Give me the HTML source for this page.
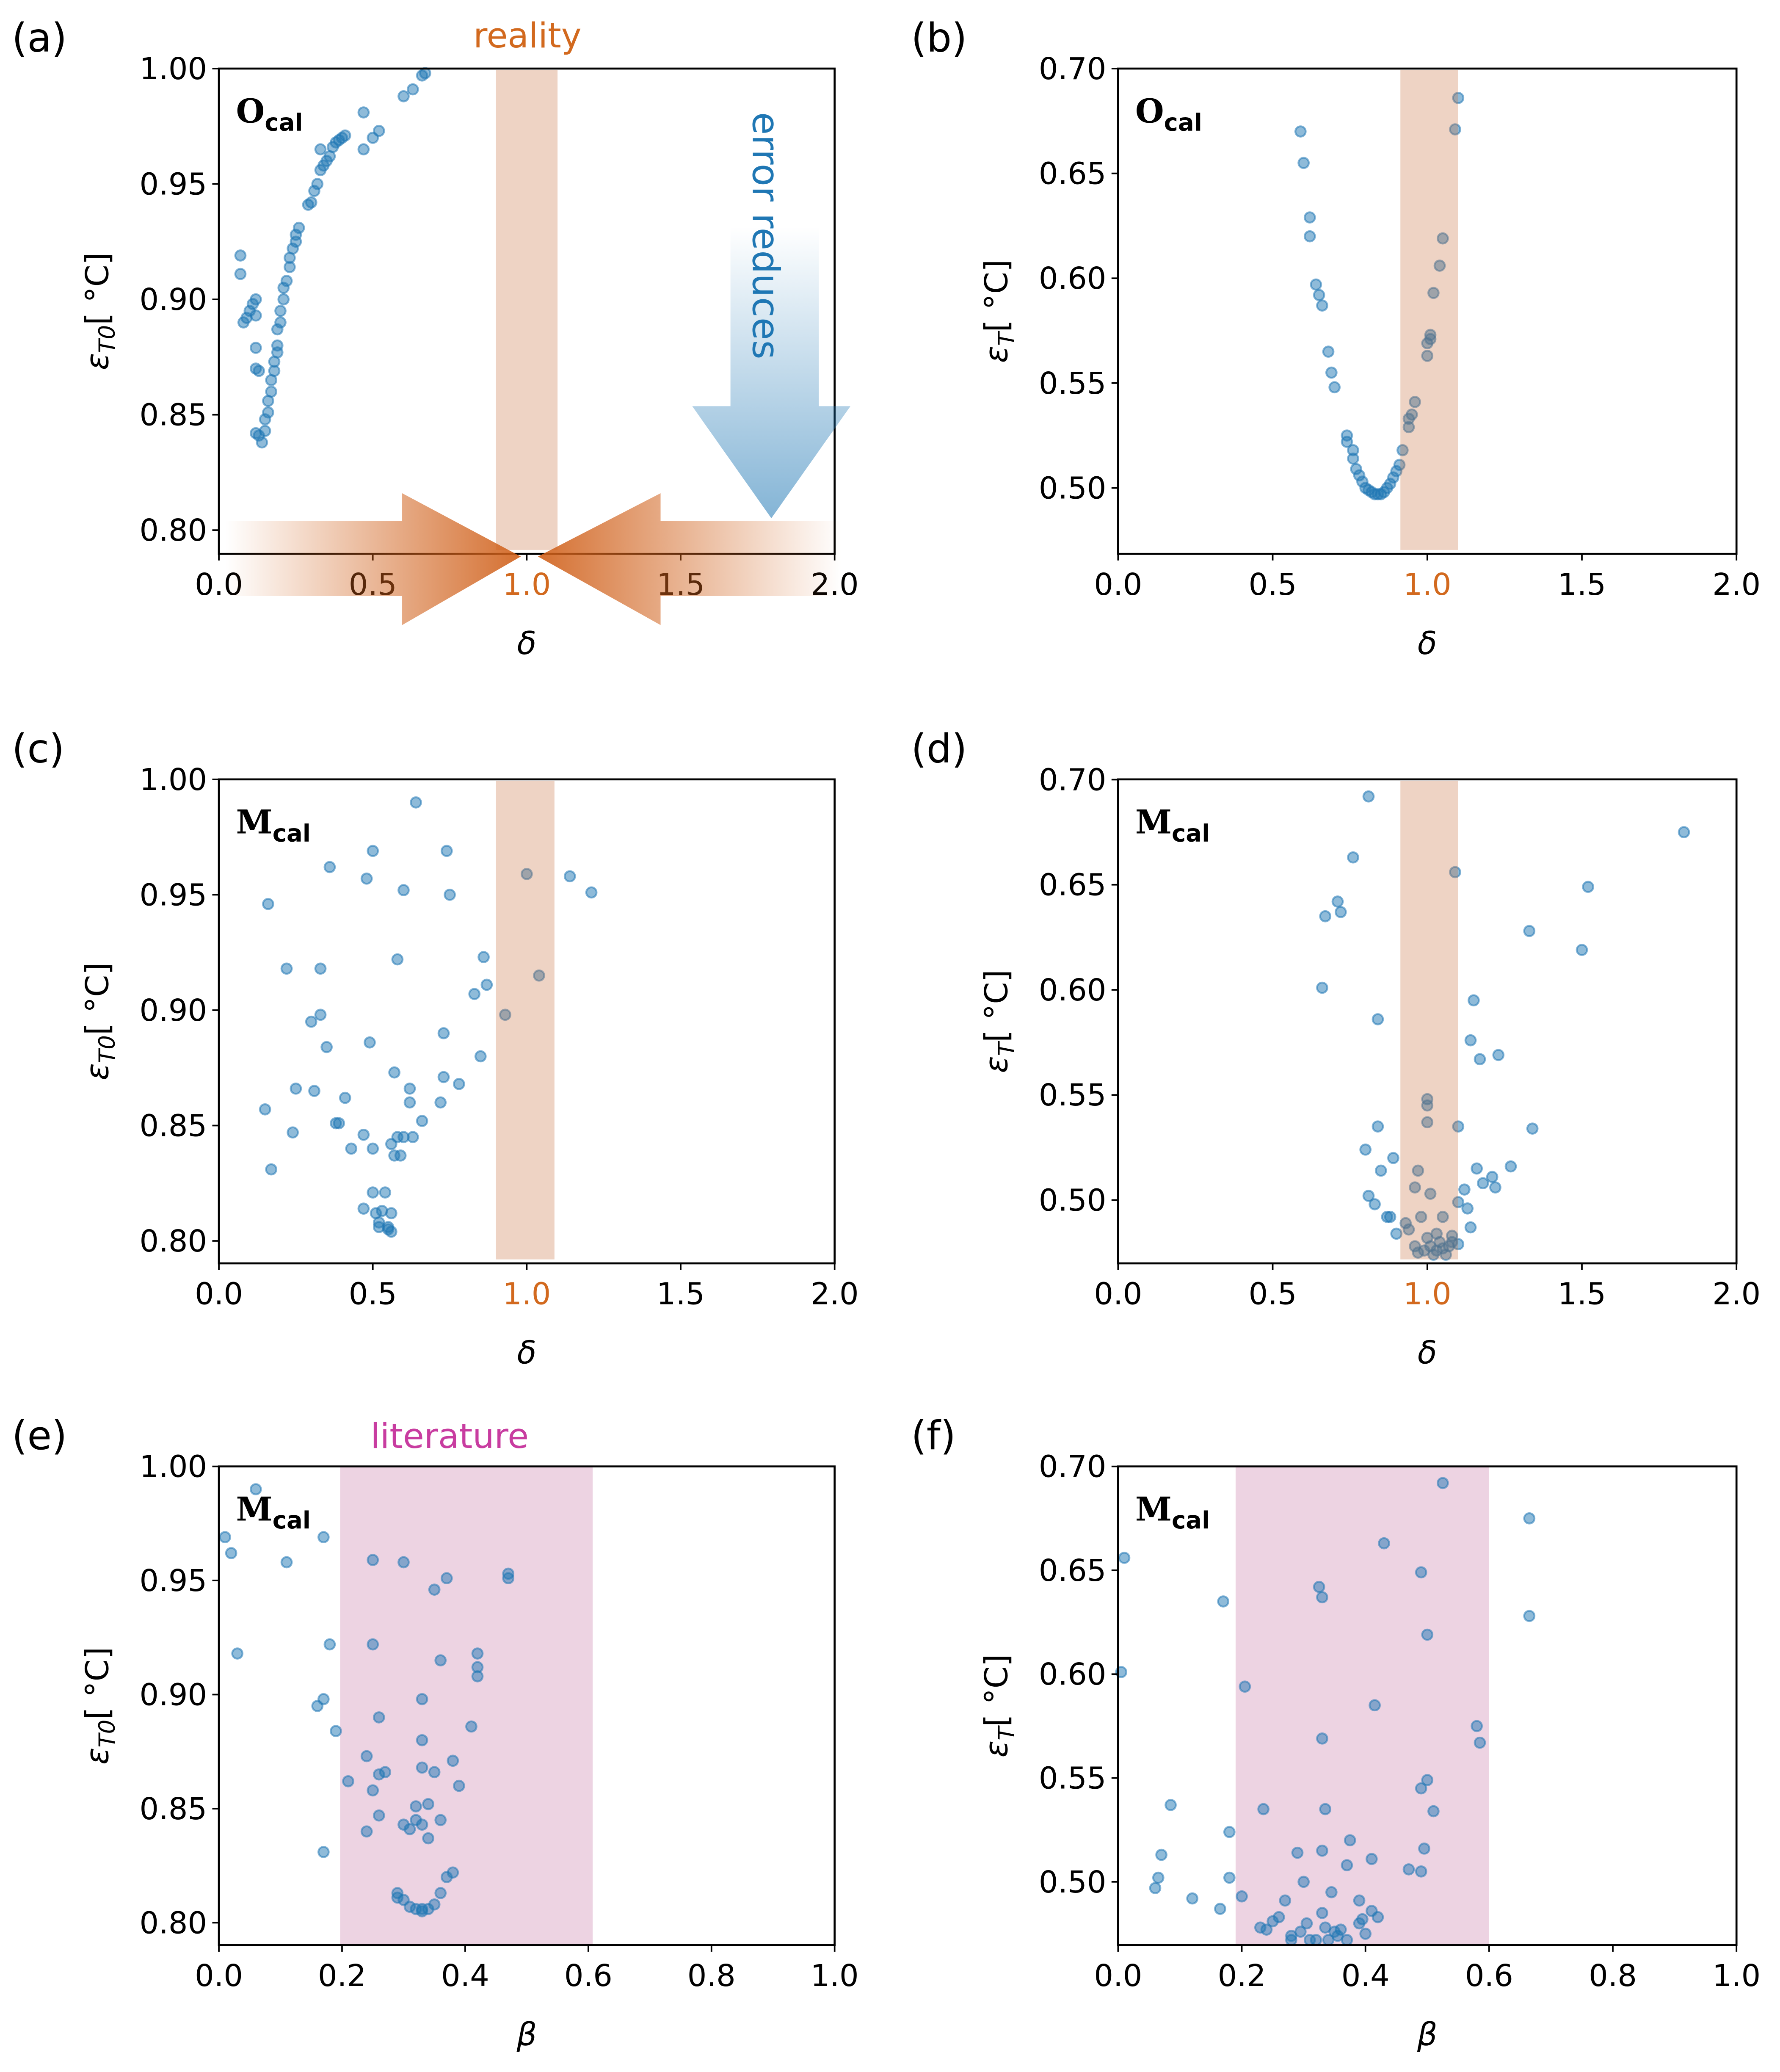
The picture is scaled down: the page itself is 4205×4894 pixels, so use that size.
<!DOCTYPE html>
<html><head><meta charset="utf-8"><style>
html,body{margin:0;padding:0;background:#fff;}
svg{display:block;}
</style></head><body>
<svg id="fig" xmlns="http://www.w3.org/2000/svg" width="4205" height="4894" viewBox="0 0 1350 1571.2" font-family="DejaVu Sans, Liberation Sans, sans-serif">
<defs>
<linearGradient id="gL" x1="171" y1="0" x2="395" y2="0" gradientUnits="userSpaceOnUse"><stop offset="0" stop-color="#d0601a" stop-opacity="0"/><stop offset="1" stop-color="#d0601a" stop-opacity="1"/></linearGradient>
<linearGradient id="gR" x1="638" y1="0" x2="408" y2="0" gradientUnits="userSpaceOnUse"><stop offset="0" stop-color="#d0601a" stop-opacity="0"/><stop offset="1" stop-color="#d0601a" stop-opacity="1"/></linearGradient>
<linearGradient id="gB" x1="0" y1="172" x2="0" y2="393" gradientUnits="userSpaceOnUse"><stop offset="0" stop-color="#1f77b4" stop-opacity="0"/><stop offset="1" stop-color="#1f77b4" stop-opacity="0.55"/></linearGradient>
</defs>
</svg>
<script>
const aX=[0.07,0.07,0.08,0.09,0.10,0.11,0.12,0.12,0.12,0.12,0.13,0.12,0.13,0.14,0.15,0.15,0.16,0.16,0.17,0.17,0.18,0.18,0.19,0.19,0.19,0.20,0.20,0.21,0.21,0.22,0.23,0.23,0.24,0.25,0.25,0.26,0.29,0.30,0.31,0.32,0.33,0.34,0.35,0.36,0.33,0.37,0.38,0.39,0.40,0.41,0.47,0.50,0.52,0.47,0.60,0.63,0.66,0.67];
const aY=[0.919,0.911,0.890,0.892,0.895,0.898,0.900,0.893,0.879,0.870,0.869,0.842,0.841,0.838,0.843,0.848,0.851,0.856,0.860,0.865,0.869,0.873,0.877,0.880,0.887,0.890,0.895,0.900,0.905,0.908,0.914,0.918,0.922,0.925,0.928,0.931,0.941,0.942,0.947,0.950,0.956,0.958,0.960,0.962,0.965,0.966,0.968,0.969,0.970,0.971,0.965,0.970,0.973,0.981,0.988,0.991,0.997,0.998];
const bX=[0.59,0.60,0.62,0.62,0.64,0.65,0.66,0.68,0.69,0.70,0.74,0.74,0.76,0.76,0.77,0.78,0.79,0.80,0.81,0.82,0.83,0.84,0.85,0.86,0.87,0.88,0.89,0.90,0.91,0.92,0.94,0.94,0.95,0.96,1.00,1.00,1.01,1.01,1.02,1.04,1.05,1.09,1.10];
const bY=[0.670,0.655,0.629,0.620,0.597,0.592,0.587,0.565,0.555,0.548,0.525,0.522,0.518,0.514,0.509,0.506,0.503,0.500,0.499,0.498,0.497,0.497,0.497,0.498,0.500,0.502,0.505,0.508,0.511,0.518,0.529,0.533,0.535,0.541,0.563,0.569,0.571,0.573,0.593,0.606,0.619,0.671,0.686];
const cX=[0.15,0.16,0.17,0.22,0.24,0.25,0.30,0.31,0.33,0.33,0.35,0.36,0.38,0.39,0.41,0.43,0.47,0.47,0.48,0.49,0.50,0.50,0.50,0.51,0.52,0.52,0.53,0.54,0.55,0.55,0.56,0.56,0.56,0.57,0.57,0.58,0.58,0.59,0.60,0.60,0.62,0.62,0.63,0.64,0.66,0.73,0.73,0.74,0.75,0.78,0.83,0.85,0.86,0.87,0.93,1.00,1.04,1.14,1.21,0.72];
const cY=[0.857,0.946,0.831,0.918,0.847,0.866,0.895,0.865,0.918,0.898,0.884,0.962,0.851,0.851,0.862,0.840,0.846,0.814,0.957,0.886,0.840,0.969,0.821,0.812,0.808,0.806,0.813,0.821,0.806,0.805,0.804,0.812,0.842,0.837,0.873,0.922,0.845,0.837,0.952,0.845,0.866,0.860,0.845,0.990,0.852,0.890,0.871,0.969,0.950,0.868,0.907,0.880,0.923,0.911,0.898,0.959,0.915,0.958,0.951,0.860];
const dX=[0.66,0.67,0.71,0.72,0.76,0.81,0.84,0.84,0.80,0.81,0.83,0.85,0.87,0.88,0.89,0.90,0.93,0.94,0.96,0.97,0.98,1.00,1.00,1.00,1.01,1.00,0.96,0.97,0.99,1.01,1.02,1.03,1.04,1.05,1.06,1.07,1.08,1.10,1.03,1.05,1.08,1.09,1.10,1.10,1.12,1.13,1.14,1.14,1.15,1.16,1.17,1.18,1.21,1.22,1.23,1.27,1.33,1.34,1.50,1.52,1.83];
const dY=[0.601,0.635,0.642,0.637,0.663,0.692,0.586,0.535,0.524,0.502,0.498,0.514,0.492,0.492,0.520,0.484,0.489,0.486,0.506,0.514,0.492,0.545,0.548,0.537,0.503,0.482,0.478,0.475,0.476,0.478,0.474,0.476,0.480,0.477,0.474,0.478,0.480,0.479,0.484,0.492,0.483,0.656,0.535,0.499,0.505,0.496,0.487,0.576,0.595,0.515,0.567,0.508,0.511,0.506,0.569,0.516,0.628,0.534,0.619,0.649,0.675];
const eX=[0.01,0.02,0.03,0.06,0.11,0.16,0.17,0.17,0.17,0.18,0.19,0.21,0.24,0.24,0.25,0.25,0.25,0.26,0.26,0.26,0.27,0.29,0.29,0.30,0.30,0.30,0.31,0.31,0.32,0.32,0.32,0.33,0.33,0.33,0.33,0.33,0.34,0.34,0.34,0.35,0.35,0.35,0.36,0.36,0.36,0.37,0.37,0.38,0.38,0.39,0.41,0.42,0.42,0.42,0.47,0.47,0.33];
const eY=[0.969,0.962,0.918,0.990,0.958,0.895,0.898,0.831,0.969,0.922,0.884,0.862,0.840,0.873,0.959,0.922,0.858,0.890,0.847,0.865,0.866,0.813,0.811,0.958,0.810,0.843,0.841,0.807,0.806,0.851,0.845,0.806,0.805,0.880,0.898,0.868,0.852,0.837,0.806,0.866,0.946,0.808,0.845,0.813,0.915,0.951,0.820,0.871,0.822,0.860,0.886,0.918,0.912,0.908,0.951,0.953,0.843];
const fX=[0.005,0.01,0.06,0.065,0.07,0.085,0.12,0.165,0.17,0.18,0.18,0.20,0.205,0.235,0.23,0.24,0.25,0.26,0.27,0.28,0.28,0.29,0.295,0.30,0.305,0.31,0.32,0.325,0.33,0.33,0.33,0.33,0.335,0.335,0.34,0.345,0.35,0.355,0.36,0.37,0.37,0.375,0.39,0.39,0.395,0.40,0.41,0.41,0.415,0.42,0.43,0.47,0.49,0.49,0.49,0.495,0.50,0.50,0.51,0.525,0.58,0.585,0.665,0.665];
const fY=[0.601,0.656,0.497,0.502,0.513,0.537,0.492,0.487,0.635,0.524,0.502,0.493,0.594,0.535,0.478,0.477,0.481,0.483,0.491,0.474,0.472,0.514,0.476,0.500,0.480,0.472,0.472,0.642,0.637,0.569,0.515,0.485,0.535,0.478,0.472,0.495,0.476,0.474,0.477,0.508,0.472,0.520,0.491,0.480,0.482,0.475,0.511,0.486,0.585,0.483,0.663,0.506,0.649,0.505,0.545,0.516,0.549,0.619,0.534,0.692,0.575,0.567,0.675,0.628];
const xTicksD=["0.0","0.5","1.0","1.5","2.0"];
const xTicksB=["0.0","0.2","0.4","0.6","0.8","1.0"];
const yTicks1=["0.80","0.85","0.90","0.95","1.00"];
const yTicks2=["0.50","0.55","0.60","0.65","0.70"];

const NS="http://www.w3.org/2000/svg";
const svg=document.getElementById('fig');
function mk(tag,attrs,parent,txt){const e=document.createElementNS(NS,tag);for(const k in attrs)e.setAttribute(k,attrs[k]);if(txt!==undefined)e.textContent=txt;(parent||svg).appendChild(e);return e;}

const panels=[
 {id:'a',L:166,T:52,R:633,B:420,xmax:2,y0:0.80,y0px:402,ystep:87.5,xs:aX,ys:aY,xt:xTicksD,yt:yTicks1,band:[0.9,1.1,'o',true],lab:'O',yl:'T0',xl:'δ',orange:true},
 {id:'b',L:848,T:52,R:1317,B:420,xmax:2,y0:0.50,y0px:370,ystep:79.5,xs:bX,ys:bY,xt:xTicksD,yt:yTicks2,band:[0.913,1.10,'o',true],lab:'O',yl:'T',xl:'δ',orange:true},
 {id:'c',L:166,T:591,R:633,B:958,xmax:2,y0:0.80,y0px:941,ystep:87.5,xs:cX,ys:cY,xt:xTicksD,yt:yTicks1,band:[0.9,1.09,'o',true],lab:'M',yl:'T0',xl:'δ',orange:true},
 {id:'d',L:848,T:591,R:1317,B:958,xmax:2,y0:0.50,y0px:910,ystep:79.7,xs:dX,ys:dY,xt:xTicksD,yt:yTicks2,band:[0.913,1.10,'o',true],lab:'M',yl:'T',xl:'δ',orange:true},
 {id:'e',L:166,T:1112,R:633,B:1475,xmax:1,y0:0.80,y0px:1458,ystep:86.5,xs:eX,ys:eY,xt:xTicksB,yt:yTicks1,band:[0.197,0.607,'p',false],lab:'M',yl:'T0',xl:'β',orange:false},
 {id:'f',L:848,T:1112,R:1317,B:1475,xmax:1,y0:0.50,y0px:1427,ystep:78.75,xs:fX,ys:fY,xt:xTicksB,yt:yTicks2,band:[0.19,0.6,'p',false],lab:'M',yl:'T',xl:'β',orange:false}
];

panels.forEach(p=>{
 const g=mk('g',{});
 
 
 const sx=v=>p.L+(p.R-p.L)*v/p.xmax;
 const sy=v=>p.y0px-(v-p.y0)*p.ystep/0.05;
 const drawBand=()=>{
  const b=mk('rect',{x:sx(p.band[0]),y:p.T+(p.band[2]==='o'?1:0),width:sx(p.band[1])-sx(p.band[0]),height:(p.B-p.T)-(p.band[2]==='o'?4:0),fill:p.band[2]==='o'?'rgb(200,110,60)':'rgb(185,80,140)','fill-opacity':p.band[2]==='o'?0.3:0.25},g);
  
  
 };
 if(!p.band[3])drawBand();
 const pts=mk('g',{},g);
 
 
 p.xs.forEach((x,i)=>{
  const c=mk('circle',{cx:sx(x),cy:sy(p.ys[i]),r:3.9,fill:'#1f77b4','fill-opacity':0.5,stroke:'#1f77b4','stroke-opacity':0.55,'stroke-width':1.4},pts);
  
  
 });
 if(p.band[3])drawBand();
 const fr=mk('rect',{x:p.L,y:p.T,width:p.R-p.L,height:p.B-p.T,fill:'none',stroke:'#000','stroke-width':1.5},g);
 
 
 p.xt.forEach((t,i)=>{
  const x=p.L+(p.R-p.L)*i/(p.xt.length-1);
  mk('line',{x1:x,y1:p.B,x2:x,y2:p.B+5,stroke:'#000','stroke-width':1.2},g);
  const tx=mk('text',{x:x,y:p.B+31,'text-anchor':'middle','font-size':23,fill:(p.orange&&t==='1.0')?'#d2691e':'#000'},g,t);
  
  
 });
 p.yt.forEach(t=>{
  const y=sy(parseFloat(t));
  mk('line',{x1:p.L-5,y1:y,x2:p.L,y2:y,stroke:'#000','stroke-width':1.2},g);
  const ty=mk('text',{x:p.L-9,y:y+8,'text-anchor':'end','font-size':23},g,t);
  
  
 });
 const xl=mk('text',{x:(p.L+p.R)/2,y:p.B+76,'text-anchor':'middle','font-size':24,'font-style':'italic'},g,p.xl);
 
 
 const yl=mk('text',{transform:`translate(${p.L-84},${(p.T+p.B)/2}) rotate(-90)`,'text-anchor':'middle','font-size':24},g);
 
 
 mk('tspan',{'font-style':'italic'},yl,'ε');
 mk('tspan',{'font-style':'italic','font-size':17,dy:5},yl,p.yl);
 mk('tspan',{dy:-5},yl,'[ °C]');
 const pl=mk('text',{x:p.L-157,y:p.T-13,'font-size':30},g,'('+p.id+')');
 
 
 const ml=mk('text',{x:p.L+13,y:p.T+41,'font-size':25,'font-weight':'bold','font-family':'DejaVu Serif, Liberation Serif, serif'},g);
 
 
 mk('tspan',{},ml,p.lab);
 mk('tspan',{'font-size':18,dy:6,'font-family':'DejaVu Sans, sans-serif'},ml,'cal');
});

const ann=mk('g',{});


const la=mk('polygon',{points:'171,395 305,395 305,374 395,422 305,474 305,452 171,452',fill:'url(#gL)','fill-opacity':0.9},ann);


const ra=mk('polygon',{points:'638,395 501,395 501,374 408,422 501,474 501,452 638,452',fill:'url(#gR)','fill-opacity':0.9},ann);


const ba=mk('polygon',{points:'554,172 621,172 621,308 645,308 585,393 525,308 554,308',fill:'url(#gB)'},ann);


const rt=mk('text',{x:400,y:36,'text-anchor':'middle','font-size':26,fill:'#d2691e'},ann,'reality');


const et=mk('text',{transform:'translate(571,85) rotate(90)','font-size':28,fill:'#1f77b4'},ann,'error reduces');


const lt=mk('text',{x:341,y:1098,'text-anchor':'middle','font-size':26,fill:'#c83ca0'},ann,'literature');


</script>
</body></html>
